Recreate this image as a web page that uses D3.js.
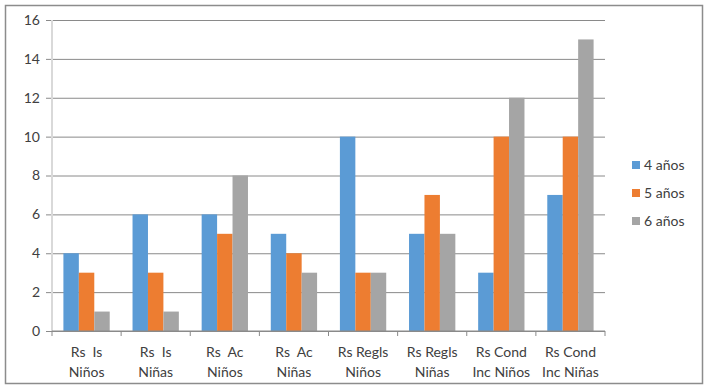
<!DOCTYPE html>
<html>
<head>
<meta charset="utf-8">
<script src="https://cdn.jsdelivr.net/npm/d3@7"></script>
<style>
  html, body { margin: 0; padding: 0; background: #fff; }
  svg { display: block; }
</style>
</head>
<body>
<svg width="711" height="389" font-family="Lato, 'Open Sans', sans-serif"></svg>
<script>
const categories = [
  ['Rs\u00a0\u00a0Is', 'Niños'],
  ['Rs\u00a0\u00a0Is', 'Niñas'],
  ['Rs\u00a0\u00a0Ac', 'Niños'],
  ['Rs\u00a0\u00a0Ac', 'Niñas'],
  ['Rs Regls', 'Niños'],
  ['Rs Regls', 'Niñas'],
  ['Rs Cond', 'Inc Niños'],
  ['Rs Cond', 'Inc Niñas']
];
const seriesNames = ['4 años', '5 años', '6 años'];
const anos4 = [4, 6, 6, 5, 10, 5, 3, 7];
const anos5 = [3, 3, 5, 4, 3, 7, 10, 10];
const anos6 = [1, 1, 8, 3, 3, 5, 12, 15];
const colors = ['#5B9BD5', '#ED7D31', '#A5A5A5'];
const yTicks = [0, 2, 4, 6, 8, 10, 12, 14, 16];

const svg = d3.select('svg');
const seriesValues = [anos4, anos5, anos6];
const textColor = '#404040';

// outer frame, drawn as an open path
svg.append('path')
  .attr('d', 'M5.5,5.5H702.5V383.5H5.5Z')
  .attr('fill', 'none')
  .attr('stroke', '#8c8c8c')
  .attr('stroke-width', 1.5);

const margin = { top: 20, left: 52, right: 106, bottom: 58 };
const innerWidth = 711 - margin.left - margin.right;
const innerHeight = 389 - margin.top - margin.bottom;

const g = svg.append('g')
  .attr('transform', `translate(${margin.left}, ${margin.top})`);

const xScale = d3.scaleBand()
  .domain(d3.range(categories.length))
  .range([0, innerWidth])
  .paddingInner(0.33)
  .paddingOuter(0.165);

const xSub = d3.scaleBand()
  .domain(d3.range(seriesNames.length))
  .range([0, xScale.bandwidth()]);

const yScale = d3.scaleLinear()
  .domain([0, 16])
  .range([innerHeight, 0]);

// gridlines + y labels
const yAxis = d3.axisLeft(yScale)
  .tickValues(yTicks)
  .tickSize(-innerWidth)
  .tickPadding(12);
const yAxisGroup = g.append('g').call(yAxis)
  .attr('font-family', null)
  .attr('font-size', 14);
yAxisGroup.select('.domain').remove();
yAxisGroup.selectAll('.tick line')
  .attr('stroke', '#8a8a8a')
  .attr('x1', -6);
yAxisGroup.selectAll('.tick text')
  .attr('fill', textColor);

// left axis line
g.append('line')
  .attr('x1', 0).attr('x2', 0)
  .attr('y1', 0).attr('y2', innerHeight)
  .attr('stroke', '#d9d9d9')
  .attr('stroke-width', 2);

// bars
const groups = g.selectAll('.cat').data(categories)
  .enter().append('g')
  .attr('transform', (d, i) => `translate(${xScale(i)}, 0)`);

groups.selectAll('rect')
  .data((d, i) => seriesValues.map((vals, s) => ({ s, v: vals[i] })))
  .enter().append('rect')
  .attr('x', d => xSub(d.s))
  .attr('y', d => yScale(d.v))
  .attr('width', xSub.bandwidth())
  .attr('height', d => innerHeight - yScale(d.v))
  .attr('fill', d => colors[d.s]);

// x axis
const bandStep = xScale.step();
const xAxisGroup = g.append('g')
  .attr('transform', `translate(0, ${innerHeight})`);
xAxisGroup.append('line')
  .attr('x1', 0).attr('x2', innerWidth)
  .attr('stroke', '#8a8a8a');
xAxisGroup.selectAll('.xtick')
  .data(d3.range(categories.length + 1))
  .enter().append('line')
  .attr('x1', i => i * bandStep).attr('x2', i => i * bandStep)
  .attr('y1', 0).attr('y2', 5)
  .attr('stroke', '#8a8a8a');

const labels = xAxisGroup.selectAll('.xlabel').data(categories)
  .enter().append('text')
  .attr('text-anchor', 'middle')
  .attr('font-size', 14)
  .attr('fill', textColor)
  .attr('transform', (d, i) => `translate(${xScale(i) + xScale.bandwidth() / 2}, 0)`);
labels.selectAll('tspan')
  .data(d => d)
  .enter().append('tspan')
  .attr('x', 0)
  .attr('y', (d, j) => 26 + j * 20)
  .text(d => d);

// legend
const legend = svg.append('g')
  .attr('transform', 'translate(632, 160)');
const items = legend.selectAll('g').data(seriesNames)
  .enter().append('g')
  .attr('transform', (d, i) => `translate(0, ${i * 28})`);
items.append('rect')
  .attr('width', 8).attr('height', 8)
  .attr('y', 1)
  .attr('fill', (d, i) => colors[i]);
items.append('text')
  .attr('x', 12)
  .attr('y', 10)
  .attr('font-size', 14)
  .attr('fill', textColor)
  .text(d => d);
</script>
</body>
</html>
